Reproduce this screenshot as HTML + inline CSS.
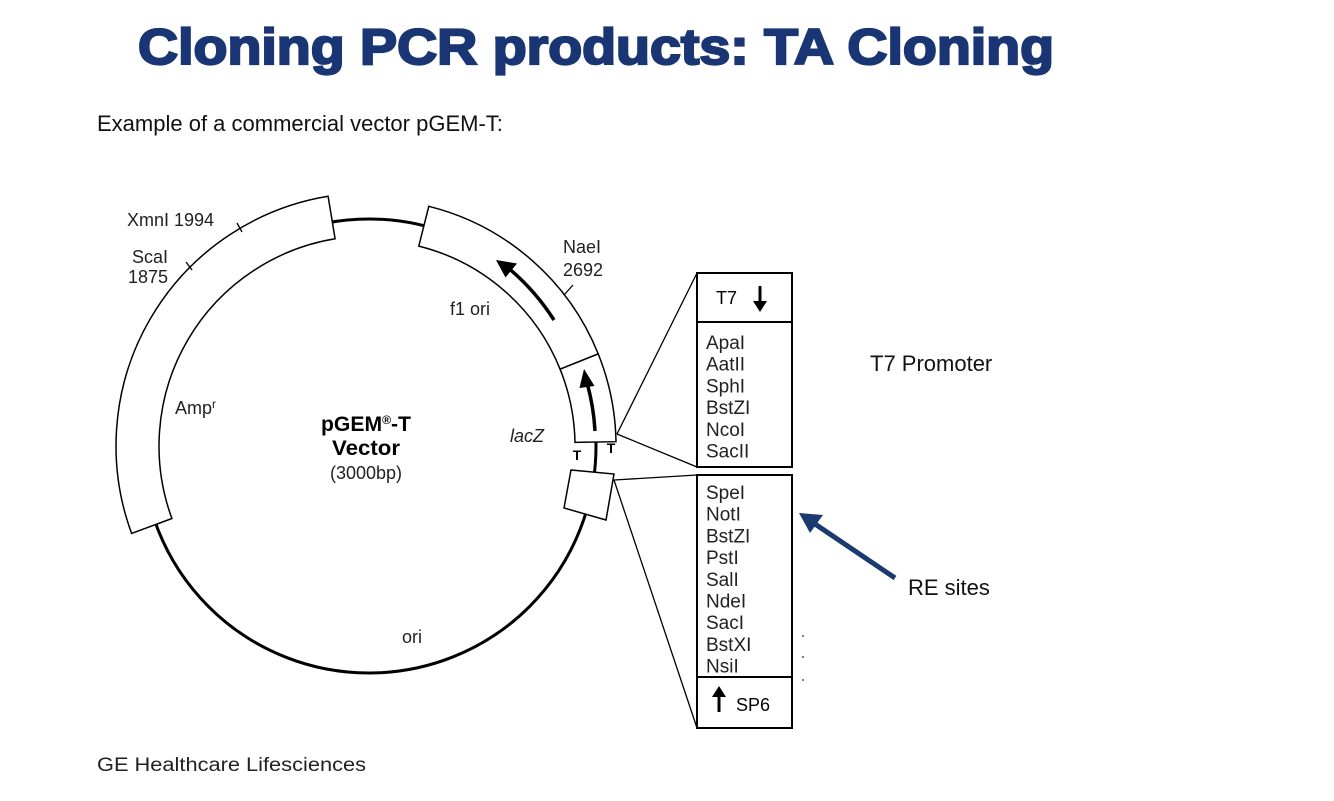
<!DOCTYPE html>
<html><head><meta charset="utf-8"><style>
body{margin:0;background:#fff;width:1334px;height:796px;overflow:hidden;font-family:"Liberation Sans",Arial,sans-serif}
</style></head><body>
<svg width="1334" height="796" viewBox="0 0 1334 796" xmlns="http://www.w3.org/2000/svg" font-family="Liberation Sans, Arial, sans-serif">
<rect width="1334" height="796" fill="#fff"/>
<text x="138" y="64" font-size="50" font-weight="bold" fill="#1a3574" stroke="#1a3574" stroke-width="2.2" textLength="916" lengthAdjust="spacingAndGlyphs">Cloning PCR products: TA Cloning</text>
<text x="97" y="131" font-size="22" fill="#111">Example of a commercial vector pGEM-T:</text>
<text x="870" y="371" font-size="22" fill="#111">T7 Promoter</text>
<text x="908" y="595" font-size="22" fill="#111">RE sites</text>
<text x="97" y="771" font-size="19" fill="#222" textLength="269" lengthAdjust="spacingAndGlyphs">GE Healthcare Lifesciences</text>

<circle cx="369" cy="446" r="227" fill="none" stroke="#000" stroke-width="3"/>
<g fill="#fff" stroke="#000" stroke-width="1.5">
<path d="M131.6,533.4 A253,253 0 0 1 328.1,196.3 L335.1,238.8 A210,210 0 0 0 171.9,518.5 Z"/>
<path d="M428.8,206.3 A247,247 0 0 1 598.2,353.9 L560.1,369.2 A206,206 0 0 0 418.8,246.1 Z"/>
<path d="M598.2,353.9 A247,247 0 0 1 616,441.7 L575,442.4 A206,206 0 0 0 560.1,369.2 Z"/>
<polygon points="571,470 614,474 606,520 564,508"/>
</g>
<g stroke="#000" stroke-width="1.3">
<line x1="237" y1="223" x2="242" y2="232"/>
<line x1="186" y1="262" x2="192" y2="270"/>
<line x1="573" y1="285" x2="564" y2="295"/>
<line x1="617" y1="434" x2="697" y2="273"/>
<line x1="617" y1="434" x2="697" y2="467"/>
<line x1="614" y1="480" x2="697" y2="475"/>
<line x1="614" y1="480" x2="697" y2="728"/>
</g>
<path d="M554,320 A226,226 0 0 0 511.2,270.4" fill="none" stroke="#000" stroke-width="3.5"/>
<polygon points="496,260 517,263.5 505.5,277.5" fill="#000"/>
<path d="M595,431 A227,227 0 0 0 587.2,383.4" fill="none" stroke="#000" stroke-width="3.5"/>
<polygon points="584,369 594.5,386 579.5,388" fill="#000"/>
<text x="577" y="460" font-size="14" font-weight="bold" text-anchor="middle">T</text>
<text x="611" y="453" font-size="14" font-weight="bold" text-anchor="middle">T</text>

<g font-size="18" fill="#222">
<text x="127" y="226">XmnI 1994</text>
<text x="132" y="263">ScaI</text>
<text x="128" y="283">1875</text>
<text x="563" y="253">NaeI</text>
<text x="563" y="276">2692</text>
<text x="450" y="315">f1 ori</text>
<text x="175" y="414">Amp<tspan font-size="12" dy="-6">r</tspan></text>
<text x="510" y="442" font-style="italic">lacZ</text>
<text x="402" y="643">ori</text>
<text x="366" y="479" text-anchor="middle">(3000bp)</text>
</g>
<text x="366" y="431" font-size="21" font-weight="bold" text-anchor="middle" textLength="90" lengthAdjust="spacingAndGlyphs">pGEM<tspan font-size="12" dy="-7">®</tspan><tspan dy="7">-T</tspan></text>
<text x="366" y="455" font-size="21" font-weight="bold" text-anchor="middle" textLength="68" lengthAdjust="spacingAndGlyphs">Vector</text>

<g fill="none" stroke="#000" stroke-width="2">
<rect x="697" y="273" width="95" height="194"/>
<line x1="697" y1="322" x2="792" y2="322"/>
<rect x="697" y="475" width="95" height="253"/>
<line x1="697" y1="677" x2="792" y2="677"/>
</g>
<text x="716" y="304" font-size="18">T7</text>
<line x1="760" y1="286" x2="760" y2="305" stroke="#000" stroke-width="3"/>
<polygon points="753,301 767,301 760,312" fill="#000"/>
<line x1="719" y1="693" x2="719" y2="712" stroke="#000" stroke-width="3"/>
<polygon points="712,697 726,697 719,686" fill="#000"/>
<text x="736" y="711" font-size="18">SP6</text>
<g font-size="19" fill="#222">
<text x="706" y="349">ApaI</text>
<text x="706" y="370.7">AatII</text>
<text x="706" y="392.4">SphI</text>
<text x="706" y="414.1">BstZI</text>
<text x="706" y="435.8">NcoI</text>
<text x="706" y="457.5">SacII</text>
<text x="706" y="499">SpeI</text>
<text x="706" y="520.7">NotI</text>
<text x="706" y="542.4">BstZI</text>
<text x="706" y="564.1">PstI</text>
<text x="706" y="585.8">SalI</text>
<text x="706" y="607.5">NdeI</text>
<text x="706" y="629.2">SacI</text>
<text x="706" y="650.9">BstXI</text>
<text x="706" y="672.6">NsiI</text>
</g>
<g fill="#555"><circle cx="803" cy="636" r="1"/><circle cx="803" cy="657" r="1"/><circle cx="803" cy="680" r="1"/></g>
<line x1="895" y1="578" x2="815" y2="524" stroke="#1b3a6f" stroke-width="5"/>
<polygon points="799,513 823,515 810,533" fill="#1b3a6f"/>
</svg>
</body></html>
